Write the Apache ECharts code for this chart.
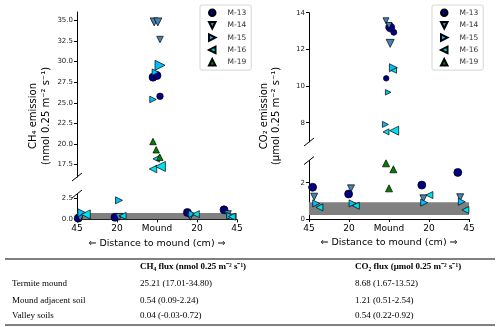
<!DOCTYPE html>
<html>
<head>
<meta charset="utf-8">
<script src="https://cdn.jsdelivr.net/npm/echarts@6/dist/echarts.min.js"></script>
<style>
html, body { margin: 0; padding: 0; background: #fff; }
#chart { width: 501px; height: 327px; }
</style>
</head>
<body>
<div id="chart"></div>
<script>
// ---- data ----
const seriesNames = ['M-13', 'M-14', 'M-15', 'M-16', 'M-19'];
const distanceLabels = ['45', '20', 'Mound', '20', '45'];   // x: -2 .. 2
const distanceTicks = [-2, -1, 0, 1, 2];

// CH4 emission, [x position (jittered), value]
const ch4M13 = [[-1.97, 0.10], [-1.05, 0.20], [-0.10, 28.10], [0.00, 28.30], [0.075, 25.78], [0.76, 0.78], [1.675, 1.10]];
const ch4M14 = [[-1.92, 0.18], [-0.95, 0.25], [-0.07, 34.80], [0.02, 34.80], [0.075, 32.66], [0.83, 0.28], [1.77, 0.58]];
const ch4M15 = [[-1.88, 0.75], [-0.95, 2.24], [-0.04, 28.70], [0.075, 29.54], [-0.10, 25.40], [0.88, 0.60], [1.83, 0.37]];
const ch4M16 = [[-1.78, 0.55], [-0.86, 0.37], [-0.02, 18.20], [-0.10, 16.97], [0.085, 17.28], [0.97, 0.58], [1.87, 0.28]];
const ch4M19 = [[-0.10, 20.30], [-0.02, 19.30], [0.07, 18.40]];

// CO2 emission
const co2M13 = [[-1.91, 1.75], [-1.01, 1.38], [-0.07, 10.42], [0.03, 13.20], [0.12, 12.93], [0.82, 1.87], [1.72, 2.57]];
const co2M14 = [[-1.87, 1.23], [-0.95, 1.69], [-0.075, 13.56], [0.00, 13.30], [0.03, 12.33], [0.86, 1.14], [1.78, 1.20]];
const co2M15 = [[-1.82, 0.86], [-0.91, 0.86], [-0.09, 7.91], [-0.02, 9.66], [0.11, 11.00], [0.88, 0.90], [1.82, 0.95]];
const co2M16 = [[-1.74, 0.64], [-0.83, 0.73], [-0.075, 7.50], [0.12, 10.85], [0.13, 7.57], [1.01, 1.32], [1.91, 0.50]];
const co2M19 = [[-0.075, 3.07], [0.11, 2.74], [0.00, 1.69]];

// valley soils range (grey band)
const ch4Valley = [-0.03, 0.72];
const co2Valley = [0.22, 0.92];

// table
const tableRows = ['Termite mound', 'Mound adjacent soil', 'Valley soils'];
const ch4Flux = ['25.21 (17.01-34.80)', '0.54 (0.09-2.24)', '0.04 (-0.03-0.72)'];
const co2Flux = ['8.68 (1.67-13.52)', '1.21 (0.51-2.54)', '0.54 (0.22-0.92)'];
const tableHead = ['CH₄ flux (nmol 0.25 m⁻² s⁻¹)', 'CO₂ flux (μmol 0.25 m⁻² s⁻¹)'];

// ---- style ----
const colors = ['#000080', '#4682b4', '#00bfff', '#00e0f0', '#008000'];
const symbols = [
  'circle',
  'path://M0,0L10,0L5,10Z',     // down
  'path://M0,0L10,5L0,10Z',     // right
  'path://M10,0L0,5L10,10Z',    // left
  'path://M5,0L10,10L0,10Z'     // up
];
// marker sizes, same order as the points above
const ch4Sizes = [[8, 8, 8, 8, 6.5, 8, 8], [7, 7, 8, 8, 6.5, 7, 7], [8, 7, 6.5, 10, 6.5, 7, 7], [9, 7, 6.5, 7.5, 10, 7, 7], [6.5, 6.5, 6.5]];
const co2Sizes = [[8, 8, 5.5, 9, 6, 8, 8], [7, 7, 6, 6, 8, 7, 7], [7, 7, 6, 5.5, 8, 7, 7], [7, 7, 6, 5.5, 9, 7, 7], [7, 7, 7]];

const font = 'DejaVu Sans';
// grid boxes: [left, top, width, height]
const G = [
  [77, 12, 160, 165],    // CH4 top
  [77, 194, 160, 25.4],  // CH4 bottom
  [309, 12.7, 160, 129.3], // CO2 top
  [309, 160.6, 160, 58.4]  // CO2 bottom
];

const chart = echarts.init(document.getElementById('chart'));

function yAx(gi, min, max, ticks, digits) {
  return {
    type: 'value', gridIndex: gi, min: min, max: max,
    axisLine: { show: true, onZero: false, lineStyle: { color: '#000', width: 1 } },
    axisTick: { show: true, length: 3, customValues: ticks, lineStyle: { color: '#000' } },
    axisLabel: { customValues: ticks, fontSize: 7, color: '#222', margin: 4, fontFamily: font,
      formatter: v => v.toFixed(digits) },
    splitLine: { show: false }
  };
}
function xAx(gi, shown) {
  return {
    type: 'value', gridIndex: gi, min: -2, max: 2, show: shown,
    axisLine: { show: true, onZero: false, lineStyle: { color: '#000', width: 1 } },
    axisTick: { show: true, length: 3, customValues: distanceTicks, lineStyle: { color: '#000' } },
    axisLabel: { customValues: distanceTicks, fontSize: 9, color: '#000', margin: 5, fontFamily: font,
      formatter: v => distanceLabels[Math.round(v) + 2] },
    splitLine: { show: false },
    name: '⇐ Distance to mound (cm) ⇒', nameLocation: 'middle', nameGap: 19,
    nameTextStyle: { fontSize: 9.5, color: '#000', fontFamily: font }
  };
}

function panelSeries(sets, sizes, breakVal, topG, botG, band) {
  const out = [{
    type: 'scatter', xAxisIndex: botG, yAxisIndex: botG, data: [], silent: true, z: 1,
    markArea: { silent: true, itemStyle: { color: '#808080', opacity: 1 },
      data: [[{ yAxis: band[0] }, { yAxis: band[1] }]] }
  }];
  seriesNames.forEach((name, i) => {
    const pts = sets[i].map((p, j) => ({ value: p, symbolSize: sizes[i][j] }));
    [[topG, pts.filter(p => p.value[1] > breakVal)], [botG, pts.filter(p => p.value[1] <= breakVal)]]
      .forEach(([g, d]) => {
        out.push({
          type: 'scatter', name: name, xAxisIndex: g, yAxisIndex: g, z: 2,
          symbol: symbols[i], data: d,
          itemStyle: { color: colors[i], borderColor: '#000', borderWidth: 0.7, opacity: 1 },
          emphasis: { disabled: true }
        });
      });
  });
  return out;
}

function legend(left) {
  return {
    left: left, top: 5, orient: 'vertical', selectedMode: false,
    data: seriesNames, itemWidth: 6.5, itemHeight: 6.5, itemGap: 3.9,
    padding: [3.5, 5, 3.5, 8], borderColor: '#ccc', borderWidth: 0.8, borderRadius: 2,
    textStyle: { fontSize: 7.5, color: '#333', fontFamily: font, padding: [0, 0, 0, 7] }
  };
}

function breakMark(x, y) {
  return { type: 'line', shape: { x1: x - 5, y1: y + 4, x2: x + 5, y2: y - 4 },
    style: { stroke: '#000', lineWidth: 1 }, z: 50 };
}

function vText(x, y, text) {
  return { type: 'text', x: x, y: y, rotation: Math.PI / 2,
    style: { text: text, fontSize: 10, fontFamily: font, fill: '#000', align: 'center', verticalAlign: 'middle' } };
}

// table graphics
const tbl = [];
const colX = [12, 140, 355];
const headY = 267, rowY = [284, 300.5, 316];
const serif = 'Liberation Serif';
tbl.push({ type: 'line', shape: { x1: 5, y1: 259, x2: 495, y2: 259 }, style: { stroke: '#000', lineWidth: 1 } });
tbl.push({ type: 'line', shape: { x1: 5, y1: 325, x2: 495, y2: 325 }, style: { stroke: '#000', lineWidth: 1 } });
tableHead.forEach((t, i) => tbl.push({ type: 'text', x: colX[i + 1], y: headY,
  style: { text: t, fontSize: 9, fontWeight: 'bold', fontFamily: serif, fill: '#000', verticalAlign: 'middle' } }));
tableRows.forEach((r, i) => {
  [r, ch4Flux[i], co2Flux[i]].forEach((t, c) => tbl.push({ type: 'text', x: colX[c], y: rowY[i],
    style: { text: t, fontSize: 9, fontFamily: serif, fill: '#000', verticalAlign: 'middle' } }));
});

const option = {
  animation: false,
  grid: G.map(g => ({ left: g[0], top: g[1], width: g[2], height: g[3], containLabel: false })),
  xAxis: [xAx(0, false), xAx(1, true), xAx(2, false), xAx(3, true)],
  yAxis: [
    yAx(0, 16, 36, [17.5, 20, 22.5, 25, 27.5, 30, 32.5, 35], 1),
    yAx(1, -0.05, 3, [0, 2.5], 1),
    yAx(2, 6.95, 14, [8, 10, 12, 14], 0),
    yAx(3, 0, 3.22, [0, 2], 0)
  ],
  legend: [legend(200), legend(432)],
  series: [].concat(
    panelSeries([ch4M13, ch4M14, ch4M15, ch4M16, ch4M19], ch4Sizes, 10, 0, 1, ch4Valley),
    panelSeries([co2M13, co2M14, co2M15, co2M16, co2M19], co2Sizes, 5, 2, 3, co2Valley)
  ),
  graphic: [
    breakMark(G[0][0], G[0][1] + G[0][3]), breakMark(G[1][0], G[1][1]),
    breakMark(G[2][0], G[2][1] + G[2][3]), breakMark(G[3][0], G[3][1]),
    vText(33, 116, 'CH₄ emission'), vText(46, 116, '(nmol 0.25 m⁻² s⁻¹)'),
    vText(264, 116, 'CO₂ emission'), vText(276.5, 116, '(μmol 0.25 m⁻² s⁻¹)')
  ].concat(tbl)
};
chart.setOption(option);
</script>
</body>
</html>
